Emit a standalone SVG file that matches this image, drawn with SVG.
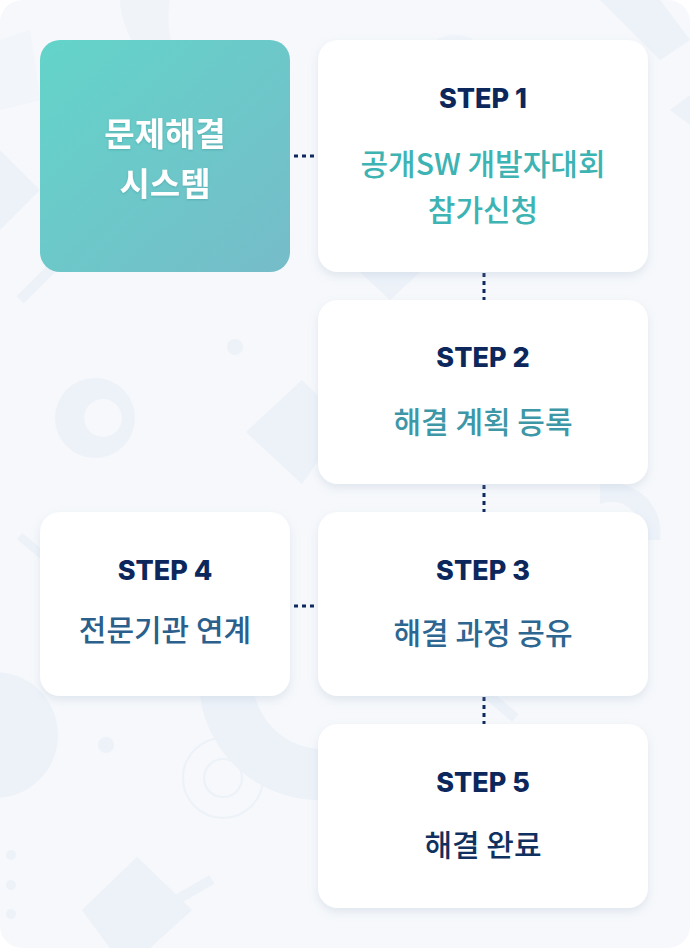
<svg xmlns="http://www.w3.org/2000/svg" width="690" height="948" viewBox="0 0 690 948">
<defs>
<linearGradient id="teal" x1="0" y1="0" x2="1" y2="1">
<stop offset="0" stop-color="#63d4c9"/>
<stop offset="1" stop-color="#76bcc9"/>
</linearGradient>
<filter id="sh" x="-10%" y="-10%" width="120%" height="130%">
<feDropShadow dx="0" dy="4" stdDeviation="4" flood-color="#9fb0c8" flood-opacity="0.25"/>
</filter>
<filter id="tsh" x="-10%" y="-10%" width="120%" height="130%">
<feDropShadow dx="0" dy="1" stdDeviation="1" flood-color="#2a7f86" flood-opacity="0.35"/>
</filter>
<style>
.card{fill:#ffffff;filter:url(#sh);}
.step{font-family:"Inter","Noto Sans",sans-serif;font-weight:800;font-size:27px;fill:#0c275c;text-anchor:middle;}
.ko{font-family:"Noto Sans CJK KR","Noto Sans",sans-serif;font-weight:500;font-size:30px;text-anchor:middle;}
.sys{font-family:"Noto Sans CJK KR","Noto Sans",sans-serif;font-weight:700;font-size:33px;text-anchor:middle;fill:#ffffff;}
.conn{stroke:#0c275c;stroke-width:3;stroke-dasharray:4 4;fill:none;}
.bg{fill:#edf2f9;}
</style>
</defs>
<rect x="0" y="0" width="690" height="948" fill="#ffffff"/>
<rect x="0" y="0" width="690" height="948" rx="22" fill="#f6f8fb"/>
<g id="background">
<path class="bg" d="M120 0 A150 110 0 0 0 200 95 A110 110 0 0 1 170 0 Z" opacity="0.6"/>
<path class="bg" d="M0 40 L30 30 L40 100 L0 110 Z" opacity="0.5"/>
<path class="bg" d="M0 150 L40 190 L0 230 Z"/>
<rect class="bg" x="10" y="270" width="70" height="10" transform="rotate(-45 45 275)"/>
<circle cx="95" cy="418" r="40" class="bg"/>
<circle cx="103" cy="418" r="19" fill="#f6f8fb"/>
<circle cx="235" cy="347" r="8" class="bg"/>
<path class="bg" d="M302 380 L345 423 L302 484 L246 432 Z"/>
<rect class="bg" x="15" y="545" width="40" height="8" transform="rotate(40 35 549)"/>
<circle cx="-5" cy="735" r="63" class="bg"/>
<circle cx="106" cy="745" r="8" class="bg"/>
<circle cx="223" cy="778" r="40" fill="none" stroke="#edf2f9" stroke-width="2"/>
<circle cx="223" cy="778" r="19" fill="none" stroke="#edf2f9" stroke-width="2"/>
<path class="bg" d="M200 696 A120 120 0 0 0 318 800 L318 749 A70 70 0 0 1 255 696 Z"/>
<circle cx="11" cy="855" r="5" class="bg"/>
<circle cx="11" cy="885" r="5" class="bg"/>
<circle cx="11" cy="914" r="5" class="bg"/>
<path class="bg" d="M137 857 L192 910 L150 948 L110 948 L82 910 Z"/>
<rect class="bg" x="170" y="886" width="45" height="10" transform="rotate(-30 192 891)"/>
<path class="bg" d="M600 0 L660 0 L690 40 L660 60 Z"/>
<circle cx="455" cy="75" r="40" class="bg" opacity="0.7"/>
<path class="bg" d="M360 272 L420 272 L390 300 Z"/>
<path class="bg" d="M600 484 A50 50 0 0 1 660 540 L640 540 A30 30 0 0 0 600 504 Z"/>
<rect class="bg" x="480" y="700" width="40" height="10" transform="rotate(40 500 705)"/>
<path class="bg" d="M670 110 L690 95 L690 125 Z"/>
</g>
<g id="connectors">
<line class="conn" x1="294" y1="156" x2="318" y2="156"/>
<line class="conn" x1="294" y1="606" x2="318" y2="606"/>
<line class="conn" x1="484" y1="273" x2="484" y2="300"/>
<line class="conn" x1="484" y1="485" x2="484" y2="512"/>
<line class="conn" x1="484" y1="697" x2="484" y2="724"/>
</g>
<g id="system">
<rect x="40" y="40" width="250" height="232" rx="20" fill="url(#teal)"/>
<text class="sys" x="165" y="146" filter="url(#tsh)">문제해결</text>
<text class="sys" x="165" y="196" filter="url(#tsh)">시스템</text>
</g>
<g id="step1">
<rect class="card" x="318" y="40" width="330" height="232" rx="20"/>
<text class="step" x="483" y="108">STEP 1</text>
<text class="ko" x="483" y="175" fill="#3db3b3">공개SW 개발자대회</text>
<text class="ko" x="483" y="221" fill="#3db3b3">참가신청</text>
</g>
<g id="step2">
<rect class="card" x="318" y="300" width="330" height="184" rx="20"/>
<text class="step" x="483" y="367">STEP 2</text>
<text class="ko" x="483" y="433" fill="#3d97a7">해결 계획 등록</text>
</g>
<g id="step3">
<rect class="card" x="318" y="512" width="330" height="184" rx="20"/>
<text class="step" x="483" y="580">STEP 3</text>
<text class="ko" x="483" y="644" fill="#2d6690">해결 과정 공유</text>
</g>
<g id="step4">
<rect class="card" x="40" y="512" width="250" height="184" rx="20"/>
<text class="step" x="165" y="580">STEP 4</text>
<text class="ko" x="165" y="641" fill="#2b5f8c">전문기관 연계</text>
</g>
<g id="step5">
<rect class="card" x="318" y="724" width="330" height="184" rx="20"/>
<text class="step" x="483" y="792">STEP 5</text>
<text class="ko" x="483" y="856" fill="#10305f">해결 완료</text>
</g>
</svg>
